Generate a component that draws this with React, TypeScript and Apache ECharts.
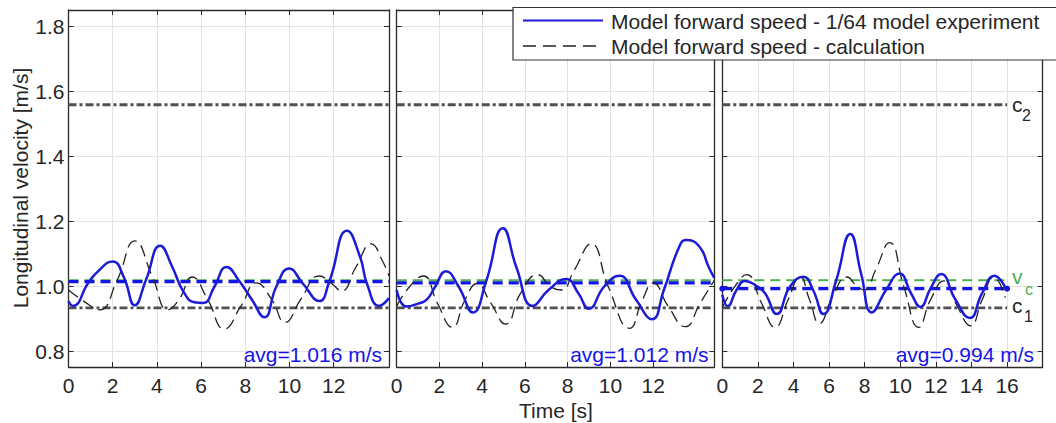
import React, { useEffect, useRef } from 'react';
import * as echarts from 'echarts';

// ---- data ----
const xTicks12 = [0, 2, 4, 6, 8, 10, 12];
const xTicks16 = [0, 2, 4, 6, 8, 10, 12, 14, 16];
const yTicks = [0.8, 1.0, 1.2, 1.4, 1.6, 1.8];

const C1 = 0.935;
const C2 = 1.56;
const VC = 1.02;
const avgValues = [1.016, 1.012, 0.994];
const avgLabels = ['avg=1.016 m/s', 'avg=1.012 m/s', 'avg=0.994 m/s'];
const xMaxes = [14.5, 14.86, 18];
const lineEnds = [14.5, 14.86, 16];

// Panel 1
const exp1T = [0, 0.2, 0.9, 1.3, 2.0, 2.5, 3.0, 3.5, 4.15, 4.7, 5.2, 5.7, 6.1, 6.6, 7.15, 7.7, 8.3, 8.86, 9.4, 9.98, 10.6, 11.35, 11.8, 12.6, 13.2, 13.5, 14.05, 14.5];
const exp1V = [0.955, 0.941, 1.012, 1.045, 1.078, 1.03, 0.943, 1.02, 1.126, 1.06, 0.985, 0.952, 0.95, 1.0, 1.061, 1.02, 0.96, 0.906, 1.0, 1.056, 1.01, 0.956, 1.016, 1.172, 1.09, 1.01, 0.941, 0.965];
const calc1T = [0, 0.7, 1.4, 2.2, 3.0, 3.8, 4.5, 5.0, 5.6, 6.3, 7.05, 7.8, 8.5, 9.2, 9.8, 10.5, 11.35, 11.9, 12.35, 13.0, 13.7, 14.2, 14.5];
const calc1V = [0.99, 0.955, 0.929, 1.02, 1.141, 1.03, 0.929, 0.96, 1.03, 0.96, 0.87, 0.94, 1.012, 0.96, 0.89, 0.96, 1.033, 1.01, 0.987, 1.06, 1.132, 1.08, 1.033];

// Panel 2
const exp2T = [0, 0.45, 1.0, 1.4, 1.8, 2.3, 2.9, 3.57, 4.2, 4.97, 5.6, 6.37, 7.1, 7.93, 8.5, 8.99, 9.7, 10.42, 11.2, 11.95, 12.5, 13.2, 13.54, 14.16, 14.6, 14.86];
const exp2V = [0.99, 0.939, 0.948, 0.96, 1.0, 1.048, 1.0, 0.921, 1.02, 1.18, 1.06, 0.941, 0.99, 1.024, 0.98, 0.932, 1.0, 1.034, 0.96, 0.9, 0.99, 1.12, 1.144, 1.124, 1.06, 1.027];
const calc2T = [0, 0.6, 1.25, 1.9, 2.6, 3.2, 3.75, 4.4, 5.1, 5.8, 6.6, 7.2, 7.7, 8.3, 9.1, 9.9, 10.9, 11.5, 12.0, 12.7, 13.5, 14.2, 14.86];
const calc2V = [0.94, 1.0, 1.033, 0.95, 0.875, 0.96, 1.01, 0.95, 0.885, 0.98, 1.037, 1.0, 0.99, 1.05, 1.132, 1.0, 0.872, 0.96, 1.012, 0.94, 0.877, 0.95, 1.02];

// Panel 3
const exp3T = [0, 0.3, 0.8, 1.28, 1.9, 2.4, 3.06, 3.8, 4.56, 5.1, 5.68, 6.4, 7.19, 7.8, 8.4, 9.2, 9.96, 10.6, 11.13, 11.7, 12.29, 13.1, 13.9, 14.6, 15.29, 15.97];
const exp3V = [0.975, 0.94, 0.99, 1.018, 1.003, 0.98, 0.916, 1.0, 1.031, 0.99, 0.916, 1.02, 1.162, 1.04, 0.921, 0.99, 1.041, 0.98, 0.938, 0.995, 1.039, 0.96, 0.904, 0.98, 1.034, 0.99];
const calc3T = [0, 0.7, 1.37, 2.2, 2.96, 3.7, 4.37, 4.9, 5.46, 6.2, 7.0, 7.6, 8.0, 8.6, 9.4, 10.2, 11.03, 11.7, 12.44, 13.2, 13.94, 14.6, 15.25, 15.9];
const calc3V = [0.936, 1.0, 1.037, 0.95, 0.875, 0.96, 1.031, 0.96, 0.887, 0.97, 1.03, 1.0, 0.99, 1.05, 1.136, 1.0, 0.875, 0.96, 1.018, 0.94, 0.88, 0.96, 1.03, 0.967];

const expT = [exp1T, exp2T, exp3T];
const expV = [exp1V, exp2V, exp3V];
const calcT = [calc1T, calc2T, calc3T];
const calcV = [calc1V, calc2V, calc3V];
const xTickSets = [xTicks12, xTicks12, xTicks16];

// ---- styles / layout ----
const FONT = 'Liberation Sans, Arial, Helvetica, sans-serif';
const TXT = '#262626';
const BLUE = '#1c1cd8';
const AVG_BLUE = '#1414e6';
const GREEN = '#4caf50';
const CGRAY = '#505050';
const FRAME = '#2b2b2b';
const GRIDC = '#e2e2e2';
const gridLayout = [
  { left: 68.5, width: 320.5 },
  { left: 396.7, width: 317.6 },
  { left: 722.3, width: 320.4 },
];
const TOP = 10;
const HEIGHT = 357;
const YMIN = 0.753;
const YMAX = 1.8515;

const zip = (a: number[], b: number[]) => a.map((x, i) => [x, b[i]]);

function buildOption() {
  const grid = gridLayout.map((g) => ({ left: g.left, top: TOP, width: g.width, height: HEIGHT, containLabel: false }));
  const xAxis: any[] = [];
  const yAxis: any[] = [];
  for (let i = 0; i < 3; i++) {
    xAxis.push({
      type: 'value', gridIndex: i, position: 'bottom', min: 0, max: xMaxes[i],
      axisLine: { show: true, onZero: false, lineStyle: { color: FRAME, width: 1.3 } },
      axisTick: { show: true, inside: true, length: 5, customValues: xTickSets[i], lineStyle: { color: FRAME, width: 1 } },
      axisLabel: { show: true, customValues: xTickSets[i], margin: 8, fontSize: 21, color: TXT, fontFamily: FONT, formatter: (v: number) => String(v) },
      splitLine: { show: true, lineStyle: { color: GRIDC, width: 1 } },
    });
  }
  for (let i = 0; i < 3; i++) {
    xAxis.push({
      type: 'value', gridIndex: i, position: 'top', min: 0, max: xMaxes[i],
      axisLine: { show: true, onZero: false, lineStyle: { color: FRAME, width: 1.3 } },
      axisTick: { show: true, inside: true, length: 5, customValues: xTickSets[i], lineStyle: { color: FRAME, width: 1 } },
      axisLabel: { show: false },
      splitLine: { show: false },
    });
  }
  for (let i = 0; i < 3; i++) {
    yAxis.push({
      type: 'value', gridIndex: i, position: 'left', min: YMIN, max: YMAX,
      axisLine: { show: true, onZero: false, lineStyle: { color: FRAME, width: 1.3 } },
      axisTick: { show: true, inside: true, length: 5, customValues: yTicks, lineStyle: { color: FRAME, width: 1 } },
      axisLabel: { show: i === 0, customValues: yTicks, margin: 4, fontSize: 21, color: TXT, fontFamily: FONT, formatter: (v: number) => v.toFixed(1) },
      splitLine: { show: true, lineStyle: { color: GRIDC, width: 1 } },
    });
  }
  for (let i = 0; i < 3; i++) {
    yAxis.push({
      type: 'value', gridIndex: i, position: 'right', min: YMIN, max: YMAX,
      axisLine: { show: true, onZero: false, lineStyle: { color: FRAME, width: 1.3 } },
      axisTick: { show: true, inside: true, length: 5, customValues: yTicks, lineStyle: { color: FRAME, width: 1 } },
      axisLabel: { show: false },
      splitLine: { show: false },
    });
  }

  const series: any[] = [];
  for (let i = 0; i < 3; i++) {
    const base = { type: 'line', xAxisIndex: i, yAxisIndex: i, symbol: 'none', silent: true };
    const end = lineEnds[i];
    series.push({ ...base, z: 3, data: [[0, C2], [end, C2]], lineStyle: { color: CGRAY, width: 2.8, type: [8, 3, 3, 3] } });
    series.push({ ...base, z: 3, data: [[0, C1], [end, C1]], lineStyle: { color: CGRAY, width: 2.8, type: [8, 3, 3, 3] } });
    series.push({ ...base, z: 4, data: [[0, VC], [end, VC]], lineStyle: { color: GREEN, width: 1.8, type: [10, 6] } });
    series.push({
      ...base, z: 5, data: [[0, avgValues[i]], [end, avgValues[i]]],
      symbol: i === 2 ? 'circle' : 'none', symbolSize: 6, showSymbol: i === 2,
      itemStyle: { color: AVG_BLUE },
      lineStyle: { color: AVG_BLUE, width: 3.2, type: [10, 6] },
    });
    series.push({ ...base, z: 6, smooth: 0.5, data: zip(calcT[i], calcV[i]), lineStyle: { color: '#222', width: 1.3, type: [12, 6] } });
    series.push({ ...base, z: 7, smooth: 0.5, data: zip(expT[i], expV[i]), lineStyle: { color: BLUE, width: 2.5 } });
  }

  const txt = (text: string, x: number, y: number, size: number, fill: string, align = 'left', extra: any = {}) => ({
    type: 'text', x, y, z: 100, silent: true, ...extra,
    style: { text, fontSize: size, fontFamily: FONT, fill, align, verticalAlign: 'middle' },
  });

  const graphic: any[] = [
    // legend
    { type: 'rect', z: 90, silent: true, shape: { x: 513, y: 7.5, width: 560, height: 52.5 }, style: { fill: '#fff', stroke: '#333', lineWidth: 1.2 } },
    { type: 'line', z: 100, silent: true, shape: { x1: 523, y1: 20.5, x2: 603, y2: 20.5 }, style: { stroke: BLUE, lineWidth: 2.2 } },
    { type: 'line', z: 100, silent: true, shape: { x1: 523, y1: 46, x2: 603, y2: 46 }, style: { stroke: '#222', lineWidth: 1.3, lineDash: [13, 7] } },
    txt('Model forward speed - 1/64 model experiment', 611, 21, 21, TXT),
    txt('Model forward speed - calculation', 611, 46.5, 21, TXT),
    // avg labels
    txt(avgLabels[0], 382, 354, 21, AVG_BLUE, 'right'),
    txt(avgLabels[1], 708.5, 354, 21, AVG_BLUE, 'right'),
    txt(avgLabels[2], 1034, 354, 21, AVG_BLUE, 'right'),
    // line labels
    txt('c', 1012, 104.5, 21, TXT),
    txt('2', 1022, 115, 16, TXT),
    txt('v', 1012, 276.5, 21, GREEN),
    txt('c', 1025, 289, 16, GREEN),
    txt('c', 1012, 305, 21, TXT),
    txt('1', 1024, 316.5, 16, TXT),
    // axis titles
    txt('Time [s]', 556, 410, 21, TXT, 'center'),
    txt('Longitudinal velocity [m/s]', 20, 188, 21, TXT, 'center', { rotation: Math.PI / 2 }),
  ];

  return { animation: false, backgroundColor: '#fff', grid, xAxis, yAxis, series, graphic };
}

export default function App() {
  const ref = useRef<HTMLDivElement>(null);
  useEffect(() => {
    if (!ref.current) return;
    const chart = echarts.init(ref.current, null, { renderer: 'svg' });
    chart.setOption(buildOption() as any);
    return () => chart.dispose();
  }, []);
  return (
    <div
      ref={ref}
      style={{ position: 'fixed', left: 0, top: 0, width: 1056, height: 423, background: '#fff' }}
    />
  );
}
